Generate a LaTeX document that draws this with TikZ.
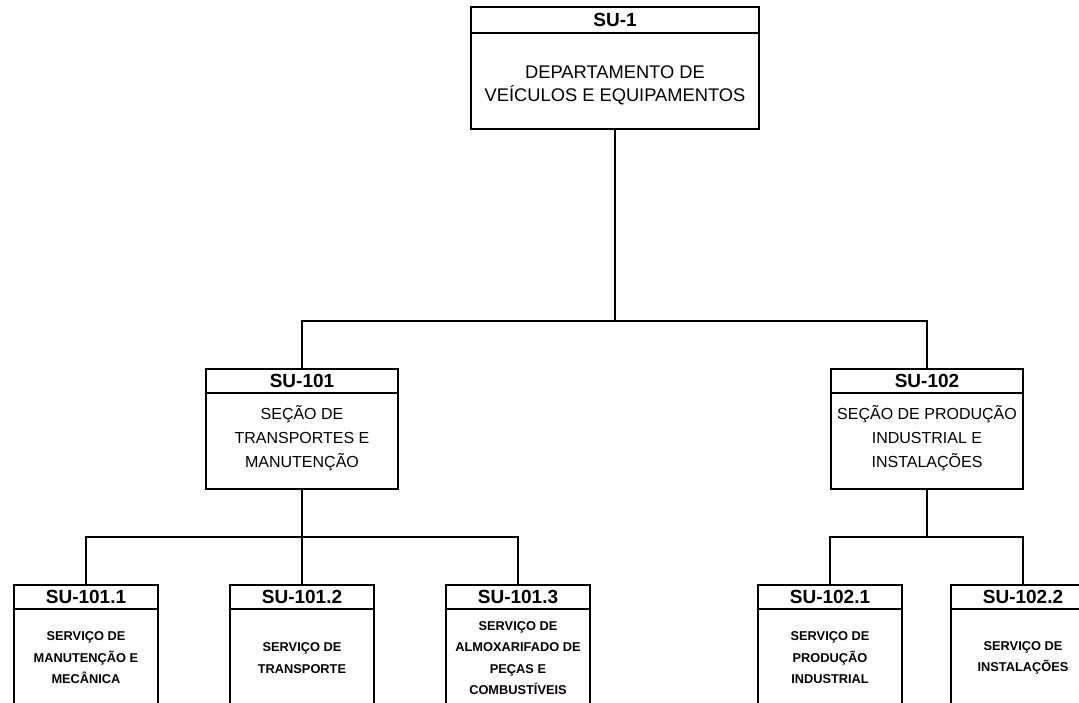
\documentclass[tikz,border=0pt]{standalone}
\usepackage{fontspec}
\setmainfont{Liberation Sans}
\newcommand{\shiftln}[2]{\raisebox{#1}[\height][\depth]{#2}}
\begin{document}
\begin{tikzpicture}[x=1pt,y=-1pt,line join=miter,
  frame/.style={draw=black, line width=1.6pt, fill=white, inner sep=0pt, outer sep=0pt},
  hdr/.style={frame, font=\bfseries\fontsize{19}{19}\selectfont},
  bodyA/.style={frame, align=center, font=\fontsize{18.3}{23}\selectfont},
  bodyB/.style={frame, align=center, font=\fontsize{16}{24}\selectfont},
  bodyC/.style={frame, align=center, font=\bfseries\fontsize{12.8}{21.5}\selectfont},
  link/.style={draw=black, line width=1.6pt}]
\useasboundingbox (0,0) rectangle (1079,703);
\clip (0,0) rectangle (1079,703);

% junctions
\coordinate (j1) at (615,321);
\coordinate (j101) at (302,537);
\coordinate (j102) at (927,537);

% level 1
\node[hdr, minimum width=288pt, minimum height=26pt] (h1) at (615,20) {SU-1};
\node[bodyA, minimum width=288pt, minimum height=96pt, anchor=north] (b1) at (h1.south) {\shiftln{-4pt}{DEPARTAMENTO DE}\\\shiftln{-4pt}{VEÍCULOS E EQUIPAMENTOS}};

% level 2
\node[hdr, minimum width=192pt, minimum height=24pt] (h101) at (302,381) {SU-101};
\node[bodyB, minimum width=192pt, minimum height=96pt, anchor=north] (b101) at (h101.south) {\shiftln{3pt}{SEÇÃO DE}\\\shiftln{3pt}{TRANSPORTES E}\\\shiftln{3pt}{MANUTENÇÃO}};

\node[hdr, minimum width=192pt, minimum height=24pt] (h102) at (927,381) {SU-102};
\node[bodyB, minimum width=192pt, minimum height=96pt, anchor=north] (b102) at (h102.south) {\shiftln{3pt}{SEÇÃO DE PRODUÇÃO}\\\shiftln{3pt}{INDUSTRIAL E}\\\shiftln{3pt}{INSTALAÇÕES}};

% level 3
\node[hdr, minimum width=144pt, minimum height=24pt] (h1011) at (86,597) {SU-101.1};
\node[bodyC, minimum width=144pt, minimum height=98pt, anchor=north] (b1011) at (h1011.south) {SERVIÇO DE\\MANUTENÇÃO E\\MECÂNICA};

\node[hdr, minimum width=144pt, minimum height=24pt] (h1012) at (302,597) {SU-101.2};
\node[bodyC, minimum width=144pt, minimum height=98pt, anchor=north] (b1012) at (h1012.south) {SERVIÇO DE\\TRANSPORTE};

\node[hdr, minimum width=144pt, minimum height=24pt] (h1013) at (518,597) {SU-101.3};
\node[bodyC, minimum width=144pt, minimum height=98pt, anchor=north] (b1013) at (h1013.south) {SERVIÇO DE\\ALMOXARIFADO DE\\PEÇAS E\\COMBUSTÍVEIS};

\node[hdr, minimum width=144pt, minimum height=24pt] (h1021) at (830,597) {SU-102.1};
\node[bodyC, minimum width=144pt, minimum height=98pt, anchor=north] (b1021) at (h1021.south) {SERVIÇO DE\\PRODUÇÃO\\INDUSTRIAL};

\node[hdr, minimum width=144pt, minimum height=24pt] (h1022) at (1023,597) {SU-102.2};
\node[bodyC, minimum width=144pt, minimum height=98pt, anchor=north] (b1022) at (h1022.south) {SERVIÇO DE\\INSTALAÇÕES};

% connectors
\draw[link] (b1.south) -- (j1);
\draw[link] (j1) -| (h101.north);
\draw[link] (j1) -| (h102.north);
\draw[link] (b101.south) -- (j101);
\draw[link] (j101) -| (h1011.north);
\draw[link] (j101) -- (h1012.north);
\draw[link] (j101) -| (h1013.north);
\draw[link] (b102.south) -- (j102);
\draw[link] (j102) -| (h1021.north);
\draw[link] (j102) -| (h1022.north);
\end{tikzpicture}
\end{document}
